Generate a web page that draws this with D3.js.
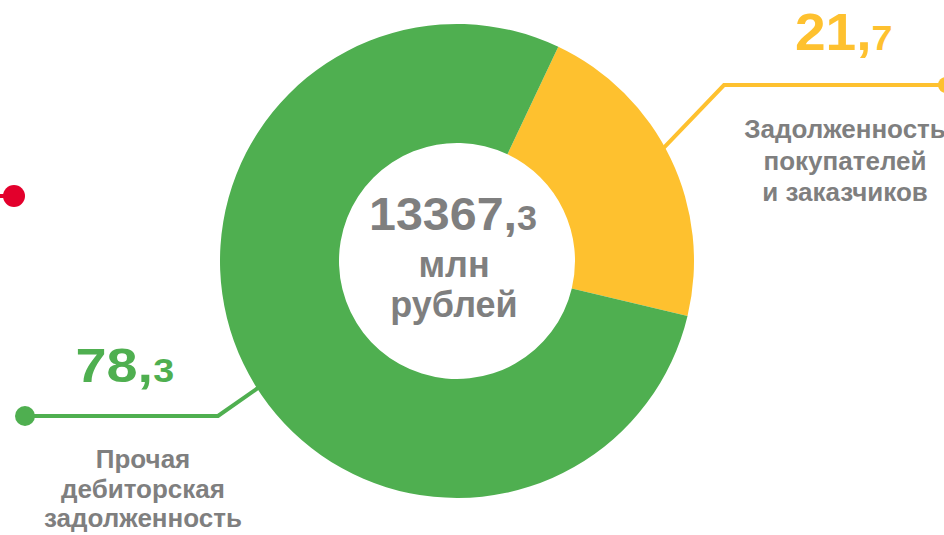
<!DOCTYPE html>
<html><head><meta charset="utf-8">
<script src="https://cdn.jsdelivr.net/npm/d3@7"></script>
<style>html,body{margin:0;padding:0;background:#fff;overflow:hidden}</style>
</head><body>
<svg id="c" width="944" height="535"></svg>
<script>
// ---- data ----
const categories = ["Задолженность покупателей и заказчиков", "Прочая дебиторская задолженность"];
const values = [21.7, 78.3];
const valueInt = ["21,", "78,"];
const valueFrac = ["7", "3"];
const labelLines = [["Задолженность", "покупателей", "и заказчиков"], ["Прочая", "дебиторская", "задолженность"]];
const totalInt = "13367,";
const totalFrac = "3";
const totalUnit = ["млн", "рублей"];

// ---- style / layout ----
const colors = ["#FEC12F", "#4FAF50"];
const grey = "#7F7F7F";
const W = 944, H = 535, cx = 457, cy = 261, rOuter = 237, rInner = 118;
const FONT = "'Liberation Sans', Arial, sans-serif";
const startDeg = 25.3;

const svg = d3.select("#c");
const pie = d3.pie().sort(null).value(d => d)
  .startAngle(startDeg * Math.PI / 180).endAngle(startDeg * Math.PI / 180 + 2 * Math.PI);
const arcs = pie(values);
const arc = d3.arc().innerRadius(rInner).outerRadius(rOuter);

// leader lines (drawn behind donut)
const leader = [
  {ang: 61.5, elbow: [724, 85], end: [946, 85], dotR: 8, numX: 795, numY: 50, big: 51, small: 35, sx: 1.08, labX: 845, labY: 138, lh: 31.7},
  {ang: 237.5, elbow: [218, 416], end: [25, 416], dotR: 10, numX: 75.5, numY: 382, big: 49, small: 33, sx: 1.14, labX: 143, labY: 468, lh: 29.6}
];
const g = svg.append("g");
leader.forEach((L, i) => {
  const a = L.ang * Math.PI / 180;
  const sx = cx + (rOuter - 4) * Math.sin(a), sy = cy - (rOuter - 4) * Math.cos(a);
  g.append("polyline")
    .attr("points", [[sx, sy], L.elbow, L.end].map(p => p.join(",")).join(" "))
    .attr("fill", "none").attr("stroke", colors[i]).attr("stroke-width", 4);
  g.append("circle").attr("cx", L.end[0]).attr("cy", L.end[1]).attr("r", L.dotR).attr("fill", colors[i]);
});

// red dot at left
g.append("line").attr("x1", -5).attr("x2", 14).attr("y1", 196).attr("y2", 196).attr("stroke", "#E3002C").attr("stroke-width", 4);
g.append("circle").attr("cx", 14).attr("cy", 196).attr("r", 11).attr("fill", "#E3002C");

// donut
svg.append("g").attr("transform", `translate(${cx},${cy})`)
  .selectAll("path").data(arcs).join("path")
  .attr("d", arc).attr("fill", (d, i) => colors[i]);

// values
leader.forEach((L, i) => {
  const t = svg.append("text").attr("transform", `translate(${L.numX},${L.numY}) scale(${L.sx},1)`)
    .attr("text-anchor", "start")
    .attr("font-family", FONT).attr("font-weight", "bold").attr("fill", colors[i]);
  t.append("tspan").attr("font-size", L.big).text(valueInt[i]);
  t.append("tspan").attr("font-size", L.small).text(valueFrac[i]);
  const lt = svg.append("text").attr("text-anchor", "middle").attr("font-family", FONT)
    .attr("font-weight", "bold").attr("font-size", 26).attr("fill", grey);
  labelLines[i].forEach((s, k) => lt.append("tspan").attr("x", L.labX).attr("y", L.labY + k * L.lh).text(s));
});

// center
const ct = svg.append("text").attr("transform", "translate(369,230) scale(1.03,1)").attr("text-anchor", "start")
  .attr("font-family", FONT).attr("font-weight", "bold").attr("fill", grey);
ct.append("tspan").attr("font-size", 47).text(totalInt);
ct.append("tspan").attr("font-size", 35).text(totalFrac);
totalUnit.forEach((s, k) => svg.append("text").attr("x", 454).attr("y", [277, 317][k])
  .attr("text-anchor", "middle").attr("font-family", FONT).attr("font-weight", "bold")
  .attr("font-size", 36).attr("fill", grey).text(s));
</script>
</body></html>
